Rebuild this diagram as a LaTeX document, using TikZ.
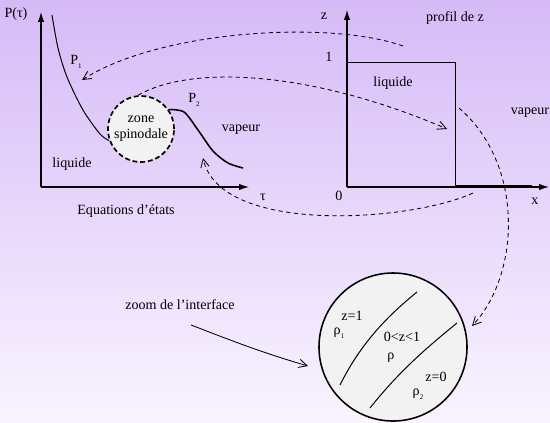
\documentclass[tikz,border=0pt]{standalone}
\usepackage{fontspec}
\setmainfont{Liberation Serif}
\usetikzlibrary{arrows.meta}
\newcommand{\lowsub}[1]{\raisebox{-0.7ex}{\tiny #1}}
\begin{document}
\begin{tikzpicture}[x=0.025cm,y=-0.025cm,
  every node/.style={font=\fontsize{10}{11.5}\selectfont},
  axis/.style={line width=0.8pt,-{Latex[length=7pt,width=4.5pt]}},
  link/.style={dash pattern=on 3pt off 2.5pt,line width=0.6pt,-{Straight Barb[length=6pt,width=6pt]}},
  bubble/.style={circle,draw,fill=black!5,line width=1.1pt,inner sep=0pt}]
  \shade[top color={rgb,255:red,214;green,186;blue,247},bottom color={rgb,255:red,249;green,244;blue,255}] (0,0) rectangle (550,422);
  \useasboundingbox (0,0) rectangle (550,422);
  % equations d'etats
  \coordinate (o1) at (41,187);
  \draw[axis] (o1) -- (41,12);
  \draw[axis] (o1) -- (249,187);
  \node (ptau) at (16,14) {P(τ)};
  \node (tau) at (263,197) {τ};
  \node (eqs) at (126,211) {Equations d’états};
  \node[bubble,dash pattern=on 3.5pt off 2pt,line width=1.2pt,minimum size=1.65cm,align=center] (spin) at (141,129) {zone\\spinodale};
  \draw[line width=0.7pt] plot[smooth] coordinates {(52,15) (58,48) (67,77) (83,110) (100,134) (spin.200)};
  \draw[line width=1.1pt] plot[smooth] coordinates {(spin.35) (184,112) (198,130) (213,151) (228,163) (243,168)};
  \node (p1) at (76,62) {P\lowsub{1}};
  \node (p2) at (194,100) {P\lowsub{2}};
  \node (liq1) at (72,164) {liquide};
  \node (vap1) at (241,130) {vapeur};
  % profil de z
  \coordinate (o2) at (347,187);
  \draw[axis] (o2) -- (347,10);
  \draw[axis] (o2) -- (549,187);
  \draw[line width=0.7pt] (347,62) -- (455,62) -- (455,185.5) -- (532,185.5);
  \node (zlab) at (324,16) {z};
  \node (one) at (329,57) {1};
  \node (zero) at (339,196) {0};
  \node (xlab) at (535,201) {x};
  \node (prof) at (455,18) {profil de z};
  \node (liq2) at (393,83) {liquide};
  \node (vap2) at (530,113) {vapeur};
  % zoom
  \node[bubble,minimum size=3.7cm] (zoomc) at (393,347) {};
  \draw[line width=0.7pt] (340,385) .. controls (360,345) and (385,318) .. (417,292);
  \draw[line width=0.7pt] (370,408) .. controls (400,370) and (430,345) .. (457,323);
  \node (z1) at (352,316) {z=1};
  \node (rho1) at (339,333) {ρ\lowsub{1}};
  \node (zmid) at (402,337) {0<z<1};
  \node (rho) at (391,358) {ρ};
  \node (z0) at (436,377) {z=0};
  \node (rho2) at (418,394) {ρ\lowsub{2}};
  \node (zlabel) at (180,305) {zoom de l’interface};
  % liens
  \coordinate (s1) at (403,46);
  \coordinate (e1) at (82,80);
  \coordinate (e2) at (447,129);
  \coordinate (s3) at (473,193);
  \coordinate (e3) at (203,158);
  \coordinate (s4) at (459,108);
  \coordinate (e4) at (472,326);
  \coordinate (e5) at (308,366);
  \draw[link] (s1) .. controls (330,20) and (160,30) .. (e1);
  \draw[link] (spin.95) .. controls (190,65) and (310,70) .. (e2);
  \draw[link] (s3) .. controls (410,222) and (220,235) .. (e3);
  \draw[link] (s4) .. controls (525,165) and (520,275) .. (e4);
  \draw[line width=0.6pt,-{Straight Barb[length=6pt,width=6pt]}] (zlabel.south) ++(11,10) .. controls (230,340) and (260,352) .. (e5);
\end{tikzpicture}
\end{document}
